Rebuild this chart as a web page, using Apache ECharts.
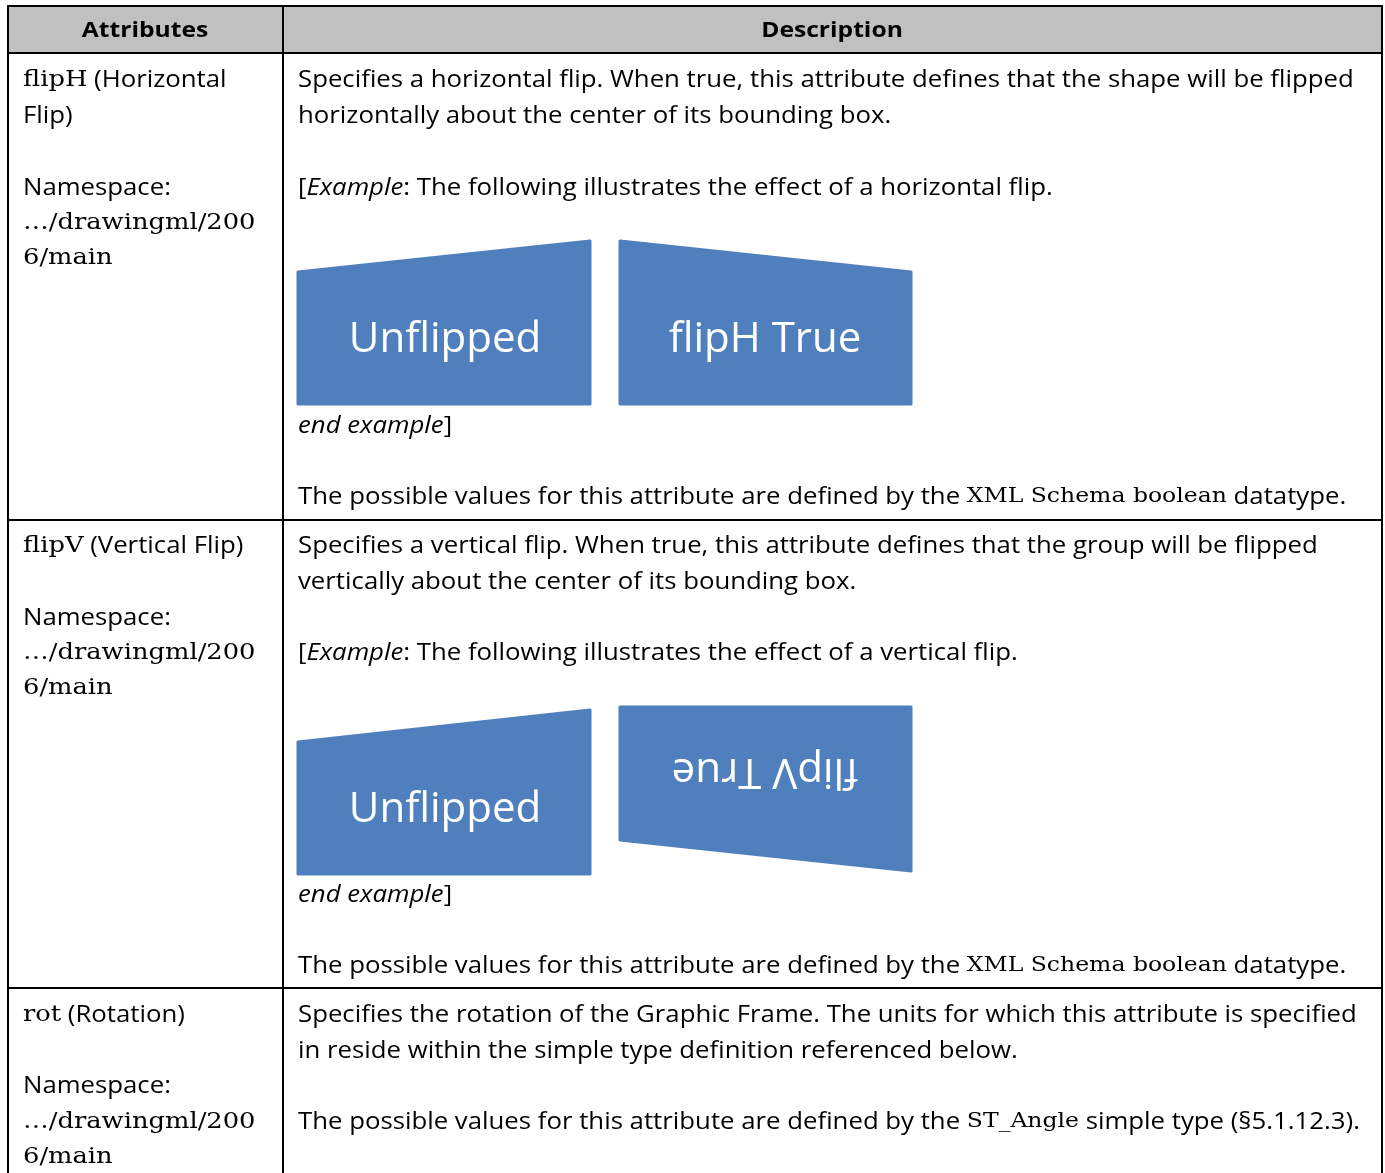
<!DOCTYPE html>
<html><head><meta charset="utf-8">
<script src="https://cdn.jsdelivr.net/npm/echarts@6/dist/echarts.min.js"></script>
<style>html,body{margin:0;padding:0;background:#fff}#c{width:1385px;height:1173px}</style>
</head><body><div id="c"></div>
<script>
// ---- content ----
const headers = ["Attributes", "Description"];
const attrLines = [
  ["{s|flipH} (Horizontal", "Flip)", "Namespace:", "{s|…/drawingml/200}", "{s|6/main}"],
  ["{s|flipV} (Vertical Flip)", "Namespace:", "{s|…/drawingml/200}", "{s|6/main}"],
  ["{s|rot} (Rotation)", "Namespace:", "{s|…/drawingml/200}", "{s|6/main}"]
];
const descLines = [
  ["Specifies a horizontal flip. When true, this attribute defines that the shape will be flipped",
   "horizontally about the center of its bounding box.",
   "[{i|Example}: The following illustrates the effect of a horizontal flip.",
   "{i|end example}]",
   "The possible values for this attribute are defined by the {d|XML Schema boolean} datatype."],
  ["Specifies a vertical flip. When true, this attribute defines that the group will be flipped",
   "vertically about the center of its bounding box.",
   "[{i|Example}: The following illustrates the effect of a vertical flip.",
   "{i|end example}]",
   "The possible values for this attribute are defined by the {d|XML Schema boolean} datatype."],
  ["Specifies the rotation of the Graphic Frame. The units for which this attribute is specified",
   "in reside within the simple type definition referenced below.",
   "The possible values for this attribute are defined by the {d|ST_Angle} simple type (§5.1.12.3)."]
];
const shapeLabels = [["Unflipped", "flipH True"], ["Unflipped", "flipV True"]];

// ---- layout ----
const L = { left: 8, mid: 283, right: 1382, top: 6, head: 53, rows: [520, 988], bottom: 1173 };
const attrY = [[80, 116, 188, 223, 258], [546, 618, 653, 688], [1015, 1086, 1122, 1157]];
const descY = [[80, 116, 188, 426, 497], [546, 582, 653, 895, 966], [1015, 1051, 1122]];
const SANS = '"Open Sans", sans-serif', SERIF = '"DejaVu Serif", serif';
const FS = 23, SX = 1.12;
const rich = {
  s: { fontFamily: SERIF, fontSize: 23, fill: '#000' },
  d: { fontFamily: SERIF, fontSize: 21, fill: '#000' },
  i: { fontFamily: SANS, fontSize: FS, fontStyle: 'italic', fill: '#000' }
};
const BLUE = '#4f7fbd';
const shapes = [
  [ {x0:298,x1:590,ty:[272,241],by:[404,404]}, {x0:620,x1:911,ty:[241,272],by:[404,404]} ],
  [ {x0:298,x1:590,ty:[742,710],by:[874,874]}, {x0:620,x1:911,ty:[707,707],by:[840,871]} ]
];
const labelPos = [[[445,340,0],[765,340,0]],[[445,810,0],[765,771,Math.PI]]];

const g = [];
g.push({ type: 'rect', shape: { x: L.left, y: L.top, width: L.right - L.left, height: L.head - L.top }, style: { fill: '#c0c0c0' }, z: 1 });
function line(x1, y1, x2, y2) {
  g.push({ type: 'line', shape: { x1, y1, x2, y2 }, style: { stroke: '#000', lineWidth: 2 }, z: 5 });
}
[L.left, L.mid, L.right].forEach(x => line(x, L.top - 1, x, L.bottom));
[L.top, L.head].concat(L.rows).forEach(y => line(L.left - 1, y, L.right + 1, y));

function text(str, x, y, extra) {
  g.push({ type: 'text', x, y, z: 6, scaleX: SX, style: Object.assign({ text: str, fontFamily: SANS, fontSize: FS, fill: '#000', verticalAlign: 'middle', align: 'left', rich }, extra || {}) });
}
text(headers[0], 145, 31, { align: 'center', fontWeight: 'bold', fontSize: 22 });
text(headers[1], 832, 31, { align: 'center', fontWeight: 'bold', fontSize: 22 });
attrLines.forEach((rows, r) => rows.forEach((t, k) => text(t, 23, attrY[r][k])));
descLines.forEach((rows, r) => rows.forEach((t, k) => text(t, 298, descY[r][k])));

shapes.forEach((pair, r) => pair.forEach((s, c) => {
  g.push({ type: 'polygon', z: 3, shape: { points: [[s.x0, s.ty[0]], [s.x1, s.ty[1]], [s.x1, s.by[1]], [s.x0, s.by[0]]] },
    style: { fill: BLUE, stroke: BLUE, lineWidth: 3, lineJoin: 'round' } });
  const p = labelPos[r][c];
  g.push({ type: 'text', z: 4, x: p[0], y: p[1], rotation: p[2], style: { text: shapeLabels[r][c], fontFamily: SANS, fontSize: 42, fill: '#fff', align: 'center', verticalAlign: 'middle' } });
}));

const chart = echarts.init(document.getElementById('c'), null, { renderer: 'canvas' });
chart.setOption({ backgroundColor: '#fff', animation: false, graphic: { elements: g } });
</script></body></html>
